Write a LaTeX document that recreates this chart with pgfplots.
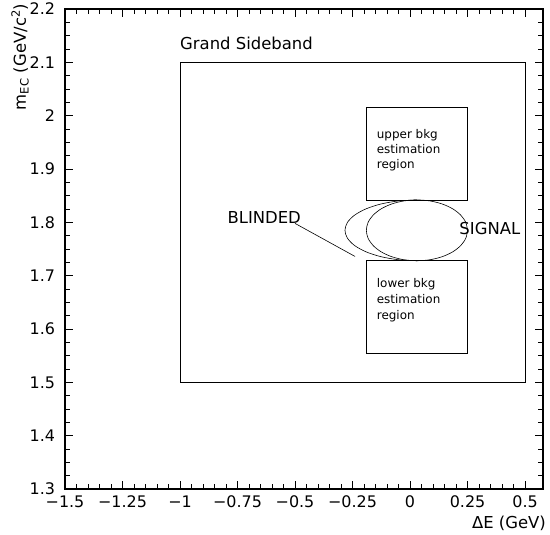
\documentclass[border=0pt]{standalone}
\usepackage{fontspec}
\setmainfont{DejaVu Sans}
\usepackage{pgfplots}
\pgfplotsset{compat=1.18}
\begin{document}
\begin{tikzpicture}
\useasboundingbox (-65bp,-46bp) rectangle (485bp,489bp);
\begin{axis}[
 at={(0,0)}, anchor=south west,
 scale only axis, width=478bp, height=480bp,
 xmin=-1.5, xmax=0.578, ymin=1.3, ymax=2.2,
 xtick={-1.5,-1.25,-1,-0.75,-0.5,-0.25,0,0.25,0.5},
 xticklabels={−1.5,−1.25,−1,−0.75,−0.5,−0.25,0,0.25,0.5},
 ytick={1.3,1.4,1.5,1.6,1.7,1.8,1.9,2.0,2.1,2.2},
 yticklabels={1.3,1.4,1.5,1.6,1.7,1.8,1.9,2,2.1,2.2},
 minor x tick num=4, minor y tick num=3,
 tick align=inside,
 major tick length=0.28cm, minor tick length=0.16cm,
 every major tick/.append style={thick, black},
 every minor tick/.append style={thick, black},
 axis line style={line width=1.2bp},
 tick label style={font=\fontsize{16}{19}\selectfont},
 xticklabel style={yshift=-3bp},
 yticklabel style={xshift=-6.5bp},
 clip=false,
]
% Grand sideband
\addplot[black, line width=0.7bp] coordinates {(-1,1.5) (0.5,1.5) (0.5,2.1) (-1,2.1) (-1,1.5)};
% upper bkg box
\addplot[black, line width=0.6bp] coordinates {(-0.19,1.842) (0.25,1.842) (0.25,2.015) (-0.19,2.015) (-0.19,1.842)};
% lower bkg box
\addplot[black, line width=0.6bp] coordinates {(-0.19,1.555) (0.25,1.555) (0.25,1.728) (-0.19,1.728) (-0.19,1.555)};
% signal ellipse
\addplot[black, line width=0.6bp, smooth] coordinates {
(0.25,1.785) (0.2425,1.7998) (0.2205,1.8135) (0.1856,1.8253) (0.14,1.8344) (0.0869,1.8401)
(0.03,1.842) (-0.0269,1.8401) (-0.08,1.8344) (-0.1256,1.8253) (-0.1605,1.8135) (-0.1825,1.7998)
(-0.19,1.785) (-0.1825,1.7703) (-0.1605,1.7565) (-0.1256,1.7447) (-0.08,1.7356) (-0.0269,1.7299)
(0.03,1.728) (0.0869,1.7299) (0.14,1.7356) (0.1856,1.7447) (0.2205,1.7565) (0.2425,1.7703) (0.25,1.785)};
% blinded (outer left half)
\addplot[black, line width=0.6bp, smooth] coordinates {
(0.03,1.842) (-0.0510,1.8401) (-0.1265,1.8344) (-0.1913,1.8253) (-0.2411,1.8135) (-0.2723,1.7998)
(-0.283,1.785) (-0.2723,1.7703) (-0.2411,1.7565) (-0.1913,1.7447) (-0.1265,1.7356) (-0.0510,1.7299) (0.03,1.728)};
% leader line
\addplot[black, line width=0.6bp] coordinates {(-0.5,1.798) (-0.239,1.736)};

\node[anchor=base west, font=\fontsize{16.5}{19}\selectfont, inner sep=0pt] at (axis cs:-1,2.1236) {Grand Sideband};
\node[anchor=base west, font=\fontsize{16.5}{19}\selectfont, inner sep=0pt] at (axis cs:-0.794,1.7985) {BLINDED};
\node[anchor=base west, font=\fontsize{16.5}{19}\selectfont, inner sep=0pt] at (axis cs:0.214,1.778) {SIGNAL};
\node[anchor=base west, font=\fontsize{12}{15}\selectfont, inner sep=0pt] at (axis cs:-0.145,1.9567) {upper bkg};
\node[anchor=base west, font=\fontsize{12}{15}\selectfont, inner sep=0pt] at (axis cs:-0.145,1.9285) {estimation};
\node[anchor=base west, font=\fontsize{12}{15}\selectfont, inner sep=0pt] at (axis cs:-0.145,1.9004) {region};
\node[anchor=base west, font=\fontsize{12}{15}\selectfont, inner sep=0pt] at (axis cs:-0.145,1.6784) {lower bkg};
\node[anchor=base west, font=\fontsize{12}{15}\selectfont, inner sep=0pt] at (axis cs:-0.145,1.6477) {estimation};
\node[anchor=base west, font=\fontsize{12}{15}\selectfont, inner sep=0pt] at (axis cs:-0.145,1.6184) {region};

\node[anchor=base east, font=\fontsize{16.5}{19}\selectfont, inner sep=0pt] at ([shift={(3bp,-39bp)}]rel axis cs:1,0) {ΔE (GeV)};
\node[anchor=base east, rotate=90, font=\fontsize{16.5}{19}\selectfont, inner sep=0pt] at ([shift={(-39bp,5.5bp)}]rel axis cs:0,1) {m\textsubscript{EC} (GeV/c\textsuperscript{2})};
\end{axis}
\end{tikzpicture}
\end{document}
